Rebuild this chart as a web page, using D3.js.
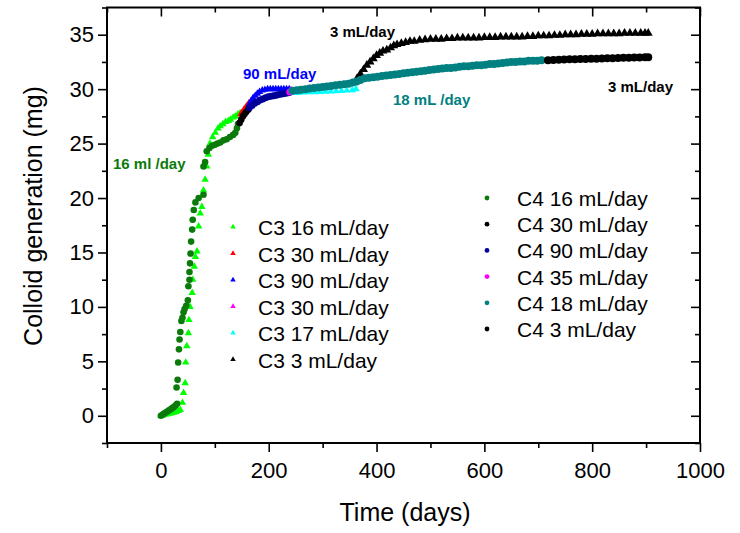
<!DOCTYPE html>
<html>
<head>
<meta charset="utf-8">
<script src="https://cdn.jsdelivr.net/npm/d3@7"></script>
<style>
  body { margin: 0; background: #fff; }
  text { font-family: Arial, "Liberation Sans", sans-serif; }
</style>
</head>
<body>
<script>
//Colloid generation vs time, two columns (C3 triangles, C4 dots)

//Data (days, mg)
var c3_16_days = [0, 4, 8, 12, 16, 20, 24, 28, 32, 36, 40, 42, 45, 46, 48, 51, 52, 54, 58, 59, 62, 64, 67, 70, 73, 76, 79, 82, 85, 88, 91, 96, 101, 106, 110, 115, 120, 125, 129, 134, 138, 143, 147];
var c3_16_mg   = [0, 0.05, 0.1, 0.15, 0.2, 0.25, 0.3, 0.35, 0.45, 0.55, 1.2, 2.1, 3.0, 4.9, 6.4, 7.6, 8.8, 10.0, 11.3, 12.5, 13.7, 14.6, 15.1, 17.4, 18.6, 19.2, 20.7, 21.7, 22.9, 24.0, 25.0, 25.6, 26.0, 26.4, 26.6, 26.8, 27.0, 27.1, 27.2, 27.4, 27.5, 27.7, 27.8];

var c3_30a_days = [148, 151, 154, 157, 160, 163];
var c3_30a_mg   = [27.7, 27.9, 28.1, 28.3, 28.5, 28.7];

var c3_90_days = [164, 167, 171, 175, 179, 183, 188, 193, 198, 203, 208, 213, 218, 223, 228, 233, 238];
var c3_90_mg   = [28.6, 28.9, 29.2, 29.4, 29.6, 29.75, 29.9, 29.95, 30.0, 30.0, 30.0, 30.0, 30.0, 30.0, 30.0, 30.0, 30.0];

var c3_30b_days = [240, 243];
var c3_30b_mg   = [29.9, 29.9];

var c3_17_days = [245, 255, 265, 275, 285, 295, 305, 315, 325, 335, 345, 355, 362];
var c3_17_mg   = [29.65, 29.67, 29.7, 29.72, 29.74, 29.76, 29.78, 29.8, 29.82, 29.85, 29.88, 29.92, 30.0];

var c3_3_days = [364, 370, 376, 382, 388, 394, 400, 406, 412, 419, 426, 432, 438, 446, 454, 462, 470, 480, 490, 500, 510, 520, 530, 540, 550, 560, 570, 580, 590, 600, 610, 620, 630, 640, 650, 660, 670, 680, 690, 700, 710, 720, 730, 740, 750, 760, 770, 780, 790, 800, 810, 820, 830, 840, 850, 860, 870, 880, 890, 898, 904];
var c3_3_mg   = [31.0, 31.4, 31.8, 32.2, 32.5, 32.8, 33.1, 33.3, 33.5, 33.6, 33.8, 34.0, 34.1, 34.2, 34.3, 34.4, 34.4, 34.5, 34.55, 34.6, 34.6, 34.6, 34.65, 34.65, 34.7, 34.7, 34.7, 34.7, 34.7, 34.75, 34.75, 34.75, 34.8, 34.8, 34.8, 34.8, 34.8, 34.85, 34.85, 34.9, 34.9, 34.9, 34.95, 34.95, 35.0, 35.0, 35.0, 35.05, 35.05, 35.05, 35.1, 35.1, 35.1, 35.1, 35.1, 35.15, 35.15, 35.15, 35.15, 35.15, 35.15];

var c4_16_days = [0, 3, 6, 9, 12, 15, 18, 21, 24, 27, 30, 29, 31, 32, 33.5, 34.6, 36, 38, 40, 42, 44, 47, 50, 51, 53, 53, 54, 55, 56, 58, 59, 61, 64, 70, 79, 79, 82, 85, 90, 95, 100, 105, 110, 116, 122, 128, 134, 138, 141, 143];
var c4_16_mg   = [0, 0.1, 0.2, 0.3, 0.4, 0.5, 0.6, 0.7, 0.8, 0.95, 1.1, 2.6, 3.3, 4.9, 6.1, 7.0, 7.7, 8.7, 9.0, 9.5, 9.8, 10.1, 10.6, 11.9, 12.5, 13.2, 14.0, 14.9, 16.0, 17.1, 18.0, 18.9, 19.6, 20.0, 20.3, 22.9, 23.3, 24.3, 24.6, 24.8, 24.9, 25.0, 25.1, 25.3, 25.4, 25.6, 25.8, 26.0, 26.4, 26.8];

var c4_30_days = [146, 149, 152, 155, 158, 162];
var c4_30_mg   = [26.9, 27.2, 27.5, 27.7, 27.9, 28.1];

var c4_90_days = [164, 169, 174, 179, 184, 189, 194, 199, 204, 209, 214, 219, 224, 229, 234, 238];
var c4_90_mg   = [28.3, 28.5, 28.7, 28.85, 29.0, 29.1, 29.2, 29.3, 29.35, 29.4, 29.45, 29.5, 29.55, 29.6, 29.65, 29.7];

var c4_35_days = [239, 242];
var c4_35_mg   = [29.75, 29.8];

var c4_18_days = [244, 252, 260, 268, 276, 284, 292, 300, 308, 316, 324, 332, 340, 348, 356, 363, 370, 378, 386, 394, 402, 410, 418, 426, 434, 442, 450, 458, 466, 474, 482, 490, 498, 506, 514, 522, 530, 538, 546, 554, 562, 570, 578, 586, 594, 602, 610, 618, 626, 634, 642, 650, 658, 666, 674, 682, 690, 698, 706];
var c4_18_mg   = [29.85, 29.9, 29.95, 30.0, 30.05, 30.1, 30.15, 30.2, 30.25, 30.3, 30.35, 30.4, 30.45, 30.5, 30.6, 30.7, 30.85, 31.0, 31.05, 31.1, 31.15, 31.2, 31.25, 31.3, 31.35, 31.4, 31.45, 31.5, 31.55, 31.6, 31.65, 31.7, 31.75, 31.8, 31.85, 31.9, 31.95, 31.95, 32.0, 32.05, 32.1, 32.1, 32.15, 32.2, 32.2, 32.25, 32.3, 32.3, 32.35, 32.4, 32.45, 32.5, 32.5, 32.55, 32.55, 32.6, 32.6, 32.6, 32.65];

var c4_3_days = [718, 728, 738, 748, 758, 768, 778, 788, 798, 808, 818, 828, 838, 848, 858, 868, 878, 888, 898, 904];
var c4_3_mg   = [32.65, 32.68, 32.7, 32.72, 32.74, 32.75, 32.76, 32.78, 32.8, 32.8, 32.82, 32.84, 32.85, 32.86, 32.88, 32.88, 32.9, 32.9, 32.92, 32.92];

var c3Labels = ["C3 16 mL/day", "C3 30 mL/day", "C3 90 mL/day", "C3 30 mL/day", "C3 17 mL/day", "C3 3 mL/day"];
var c3Colors = ["#00ff00", "#ff0000", "#0000ff", "#ff00ff", "#00ffff", "#000000"];
var c4Labels = ["C4 16 mL/day", "C4 30 mL/day", "C4 90 mL/day", "C4 35 mL/day", "C4 18 mL/day", "C4 3 mL/day"];
var c4Colors = ["#0b7a0b", "#000000", "#000099", "#ff00ff", "#008080", "#000000"];

var xMajorTicks = [0, 200, 400, 600, 800, 1000];
var xMinorTicks = [-100, 100, 300, 500, 700, 900];
var yMajorTicks = [0, 5, 10, 15, 20, 25, 30, 35];
var yMinorTicks = [-2.5, 2.5, 7.5, 12.5, 17.5, 22.5, 27.5, 32.5, 37.5];

//Set size and margins for chart
var svgwidth = 740;
var svgheight = 533;

var margin = {
    top: 7.5,
    right: 40,
    bottom: 90,
    left: 107,
}

var width = svgwidth - margin.left - margin.right;
var height = svgheight - margin.top - margin.bottom;

var svg = d3.select("body")
            .append("svg")
            .attr("width", svgwidth)
            .attr("height", svgheight);

var chartGroup = svg.append("g")
                .attr("transform", `translate(${margin.left}, ${margin.top})`);

//Scales
var xLinearScale = d3.scaleLinear()
        .domain([-100, 1000])
        .range([0, width]);

var yLinearScale = d3.scaleLinear()
        .domain([-2.5, 37.5])
        .range([height, 0]);

//Series tables built from the arrays above
function zipSeries(days, mg) {
    return days.map((d, i) => ({ day: d, mg: mg[i] }));
}

var c3Series = [
    zipSeries(c3_16_days, c3_16_mg),
    zipSeries(c3_30a_days, c3_30a_mg),
    zipSeries(c3_90_days, c3_90_mg),
    zipSeries(c3_30b_days, c3_30b_mg),
    zipSeries(c3_17_days, c3_17_mg),
    zipSeries(c3_3_days, c3_3_mg),
];
var c4Series = [
    zipSeries(c4_16_days, c4_16_mg),
    zipSeries(c4_30_days, c4_30_mg),
    zipSeries(c4_90_days, c4_90_mg),
    zipSeries(c4_35_days, c4_35_mg),
    zipSeries(c4_18_days, c4_18_mg),
    zipSeries(c4_3_days, c4_3_mg),
];
//marker sizes: the later, flatter runs look heavier in the picture
var c3Sizes = [24, 24, 24, 24, 24, 34];
var c4Radius = [3.3, 3.3, 3.5, 3.5, 4, 4];

//Axes: bottom/left ticks point out, top/right point in
function styleAxis(g, fontSize) {
    g.select(".domain").remove();
    g.selectAll(".tick line").attr("stroke", "#000").attr("stroke-width", 1.6);
    g.selectAll("text").attr("font-size", fontSize).attr("fill", "#000")
        .style("font-family", "Arial, 'Liberation Sans', sans-serif");
}

chartGroup.append("g")
    .attr("transform", `translate(0, ${height})`)
    .call(d3.axisBottom(xLinearScale).tickValues(xMajorTicks).tickSize(9).tickPadding(10).tickFormat(d3.format("d")))
    .call(g => styleAxis(g, 22));
chartGroup.append("g")
    .attr("transform", `translate(0, ${height})`)
    .call(d3.axisBottom(xLinearScale).tickValues(xMinorTicks).tickSize(5).tickFormat(""))
    .call(g => styleAxis(g, 22));
chartGroup.append("g")
    .call(d3.axisBottom(xLinearScale).tickValues(xMajorTicks).tickSize(9).tickFormat(""))
    .call(g => styleAxis(g, 22));
chartGroup.append("g")
    .call(d3.axisBottom(xLinearScale).tickValues(xMinorTicks).tickSize(5).tickFormat(""))
    .call(g => styleAxis(g, 22));

chartGroup.append("g")
    .call(d3.axisLeft(yLinearScale).tickValues(yMajorTicks).tickSize(9).tickPadding(4))
    .call(g => styleAxis(g, 22));
chartGroup.append("g")
    .call(d3.axisLeft(yLinearScale).tickValues(yMinorTicks).tickSize(5).tickFormat(""))
    .call(g => styleAxis(g, 22));
chartGroup.append("g")
    .attr("transform", `translate(${width}, 0)`)
    .call(d3.axisLeft(yLinearScale).tickValues(yMajorTicks).tickSize(9).tickFormat(""))
    .call(g => styleAxis(g, 22));
chartGroup.append("g")
    .attr("transform", `translate(${width}, 0)`)
    .call(d3.axisLeft(yLinearScale).tickValues(yMinorTicks).tickSize(5).tickFormat(""))
    .call(g => styleAxis(g, 22));

//Frame
chartGroup.append("rect")
    .attr("width", width)
    .attr("height", height)
    .attr("fill", "none")
    .attr("stroke", "#000")
    .attr("stroke-width", 2);

//Markers
var smallTriangle = d3.symbol().type(d3.symbolTriangle).size(13);

c3Series.forEach(function(series, i) {
    chartGroup.append("g").selectAll("path")
        .data(series)
        .enter()
        .append("path")
        .attr("d", d3.symbol().type(d3.symbolTriangle).size(c3Sizes[i]))
        .attr("transform", d => `translate(${xLinearScale(d.day)}, ${yLinearScale(d.mg)})`)
        .attr("fill", c3Colors[i]);
});

c4Series.forEach(function(series, i) {
    chartGroup.append("g").selectAll("circle")
        .data(series)
        .enter()
        .append("circle")
        .attr("cx", d => xLinearScale(d.day))
        .attr("cy", d => yLinearScale(d.mg))
        .attr("r", c4Radius[i])
        .attr("fill", c4Colors[i]);
});

//Annotations
var notes = [
    { text: "16 ml /day", x: 113, y: 169, color: "#0b7a0b" },
    { text: "90 mL/day", x: 243, y: 79, color: "#0000ff" },
    { text: "3 mL/day", x: 330, y: 37, color: "#000" },
    { text: "18 mL /day", x: 393, y: 105, color: "#008080" },
    { text: "3 mL/day", x: 608, y: 92, color: "#000" },
];
svg.selectAll(".note")
    .data(notes)
    .enter()
    .append("text")
    .attr("class", "note")
    .attr("x", d => d.x)
    .attr("y", d => d.y)
    .attr("fill", d => d.color)
    .attr("font-size", 15)
    .attr("font-weight", "bold")
    .text(d => d.text);

//Legends
var legendC3 = svg.append("g").attr("transform", "translate(233, 227)");
c3Labels.forEach(function(label, i) {
    legendC3.append("path")
        .attr("d", smallTriangle)
        .attr("transform", `translate(0, ${i * 26.5})`)
        .attr("fill", c3Colors[i]);
    legendC3.append("text")
        .attr("x", 25)
        .attr("y", i * 26.5 + 8)
        .attr("font-size", 21)
        .attr("fill", "#000")
        .text(label);
});

var legendC4 = svg.append("g").attr("transform", "translate(487, 198)");
c4Labels.forEach(function(label, i) {
    legendC4.append("circle")
        .attr("cx", 0)
        .attr("cy", i * 26.2)
        .attr("r", 2.4)
        .attr("fill", c4Colors[i]);
    legendC4.append("text")
        .attr("x", 30)
        .attr("y", i * 26.2 + 8)
        .attr("font-size", 21)
        .attr("fill", "#000")
        .text(label);
});

//Axis titles
svg.append("text")
    .attr("transform", "translate(42, 216) rotate(-90)")
    .attr("text-anchor", "middle")
    .attr("font-size", 25)
    .text("Colloid generation (mg)");

svg.append("text")
    .attr("x", 405)
    .attr("y", 521)
    .attr("text-anchor", "middle")
    .attr("font-size", 25)
    .text("Time (days)");
</script>
</body>
</html>
